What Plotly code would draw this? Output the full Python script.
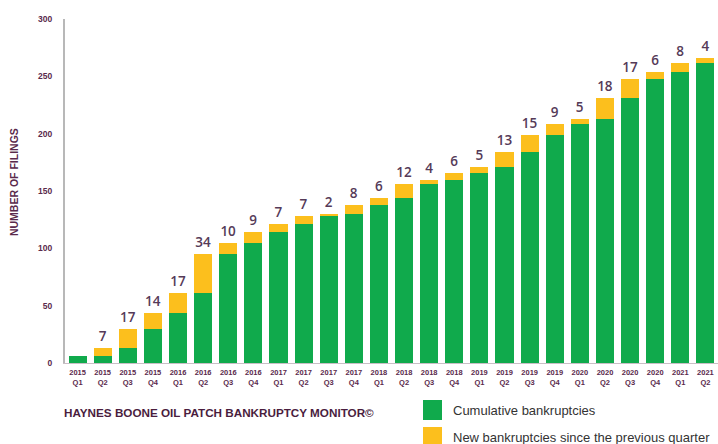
import plotly.graph_objects as go

# Quarter labels (year / quarter)
years = ["2015", "2015", "2015", "2015", "2016", "2016", "2016", "2016",
         "2017", "2017", "2017", "2017", "2018", "2018", "2018", "2018",
         "2019", "2019", "2019", "2019", "2020", "2020", "2020", "2020",
         "2021", "2021"]
quarters = ["Q1", "Q2", "Q3", "Q4"] * 6 + ["Q1", "Q2"]
categories = [f"{y}<br>{q}" for y, q in zip(years, quarters)]

# Cumulative filings carried in from earlier quarters (green)
cumulative = [6, 6, 13, 30, 44, 61, 95, 105, 114, 121, 128, 130, 138,
              144, 156, 160, 166, 171, 184, 199, 208, 213, 231, 248, 254, 262]
# New filings in the quarter (orange)
new_filings = [0, 7, 17, 14, 17, 34, 10, 9, 7, 7, 2, 8, 6,
               12, 4, 6, 5, 13, 15, 9, 5, 18, 17, 6, 8, 4]
new_labels = ["" if v == 0 else str(v) for v in new_filings]

y_ticks = [0, 50, 100, 150, 200, 250, 300]

GREEN = "#10aa4c"
ORANGE = "#fcbf1d"
PURPLE = "#5a2a4c"
LABEL = "#553a58"

fig = go.Figure()
fig.add_trace(go.Bar(
    x=categories, y=cumulative, name="Cumulative bankruptcies",
    marker=dict(color=GREEN, line=dict(width=0)), hoverinfo="skip",
))
fig.add_trace(go.Bar(
    x=categories, y=new_filings, name="New bankruptcies since the previous quarter",
    marker=dict(color=ORANGE, line=dict(width=0)),
    text=new_labels, textposition="outside", cliponaxis=False,
    textfont=dict(family="Open Sans", size=13.5, color=LABEL, weight=600),
    hoverinfo="skip",
))

fig.update_layout(
    width=718, height=444,
    margin=dict(l=65, r=0, t=19, b=81),
    paper_bgcolor="white", plot_bgcolor="white",
    barmode="stack", bargap=0.28, showlegend=False,
    xaxis=dict(
        showgrid=False, showline=True, linecolor="#c9bfc6", linewidth=1,
        ticks="", tickfont=dict(family="Liberation Sans", size=7.5, color=PURPLE, weight="bold"),
        ticklabelstandoff=2, tickangle=0, fixedrange=True,
    ),
    yaxis=dict(
        range=[0, 300], tickvals=y_ticks, showgrid=False, zeroline=False,
        showline=True, linecolor="#b8b8b8", linewidth=2, ticks="",
        tickfont=dict(family="Liberation Sans", size=8.5, color=PURPLE, weight="bold"),
        ticklabelstandoff=9,
    ),
)

# Vertical axis title
fig.add_annotation(
    text="NUMBER OF FILINGS", textangle=-90, xref="paper", yref="paper",
    x=-0.078, y=(363 - 182) / 344, xanchor="center", yanchor="middle", showarrow=False,
    font=dict(family="Liberation Sans", size=10.5, color=PURPLE, weight="bold"),
)

# Footer title
fig.add_annotation(
    text="HAYNES BOONE OIL PATCH BANKRUPTCY MONITOR©", xref="paper", yref="paper",
    x=-0.005, y=-0.143, xanchor="left", yanchor="middle", showarrow=False,
    font=dict(family="Liberation Sans", size=11.7, color="#4a1d3e", weight="bold"),
)

# Legend swatches and labels
legend_items = [("Cumulative bankruptcies", GREEN, 410),
                ("New bankruptcies since the previous quarter", ORANGE, 437)]
for label, color, cy in legend_items:
    fig.add_shape(
        type="rect", xref="paper", yref="paper", line=dict(width=0), fillcolor=color,
        x0=(423 - 65) / 653, x1=(442 - 65) / 653,
        y0=(363 - (cy + 10)) / 344, y1=(363 - (cy - 10)) / 344,
    )
    fig.add_annotation(
        text=label, xref="paper", yref="paper", showarrow=False,
        x=(451 - 65) / 653, y=(363 - cy) / 344, xanchor="left", yanchor="middle",
        font=dict(family="Liberation Sans", size=13, color="#333333"),
    )

fig.write_html("out.html")
